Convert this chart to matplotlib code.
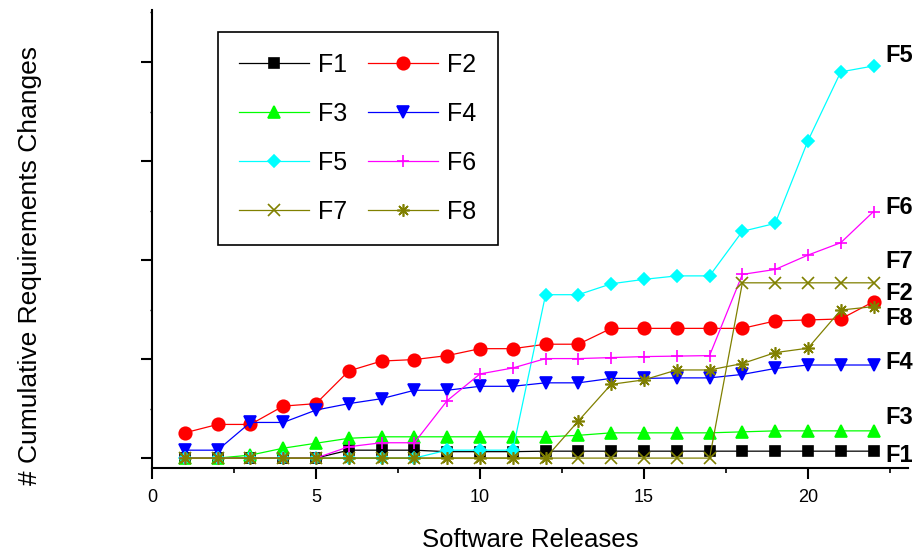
import matplotlib
matplotlib.use('Agg')
from matplotlib import pyplot as plt
from matplotlib.ticker import MultipleLocator

plt.rcParams['font.family'] = ['Liberation Sans', 'DejaVu Sans']

releases = list(range(1, 23))

f1 = [0, 0, 0, 0, 0, 0.8, 0.8, 0.8, 0.65, 0.65, 0.65,
      0.7, 0.7, 0.7, 0.7, 0.7, 0.7, 0.7, 0.7, 0.7, 0.7, 0.7]
f2 = [2.55, 3.4, 3.4, 5.25, 5.5, 8.8, 9.8, 9.95, 10.35, 11.05, 11.05,
      11.5, 11.5, 13.1, 13.1, 13.1, 13.1, 13.1, 13.85, 13.95, 14.05, 15.8]
f3 = [0, 0, 0.3, 1.0, 1.5, 2.0, 2.15, 2.15, 2.15, 2.15, 2.15,
      2.15, 2.3, 2.55, 2.55, 2.55, 2.55, 2.65, 2.75, 2.75, 2.75, 2.75]
f4 = [0.8, 0.8, 3.6, 3.6, 4.85, 5.5, 6.0, 6.85, 6.85, 7.25, 7.25,
      7.6, 7.6, 8.05, 8.05, 8.1, 8.1, 8.45, 9.05, 9.4, 9.4, 9.4]
f5 = [0, 0, 0, 0, 0, 0, 0, 0, 0.8, 0.8, 0.8,
      16.5, 16.5, 17.6, 18.05, 18.4, 18.4, 22.9, 23.7, 32.05, 39.0, 39.6]
f6 = [0, 0, 0, 0, 0, 1.15, 1.55, 1.55, 5.8, 8.5, 9.1,
      10.05, 10.05, 10.15, 10.25, 10.3, 10.35, 18.55, 19.05, 20.5, 21.75, 24.9]
f7 = [0, 0, 0, 0, 0, 0, 0, 0, 0, 0, 0,
      0, 0, 0, 0, 0, 0, 17.7, 17.7, 17.7, 17.7, 17.7]
f8 = [0, 0, 0, 0, 0, 0, 0, 0, 0, 0, 0,
      0, 3.75, 7.45, 7.9, 8.9, 8.9, 9.55, 10.65, 11.1, 14.95, 15.3]

names = ['F1', 'F2', 'F3', 'F4', 'F5', 'F6', 'F7', 'F8']
series = [f1, f2, f3, f4, f5, f6, f7, f8]

colors = ['black', 'red', '#00ff00', 'blue', 'cyan', 'magenta', '#808000', '#808000']
markers = ['s', 'o', '^', 'v', 'D', '+', 'x', (8, 2, 0)]
msizes = [6.5, 9, 8.5, 8.5, 6.5, 8, 8, 9]

# end-of-line labels (x, y in data units)
end_x = 22.35
end_y = {'F5': 40.7, 'F6': 25.35, 'F7': 19.9, 'F2': 16.6,
         'F8': 14.1, 'F4': 9.7, 'F3': 4.15, 'F1': 0.3}

fig = plt.figure(figsize=(9.19, 5.52), dpi=100)
ax = fig.add_axes([152 / 919, 84 / 552, 756 / 919, 458 / 552])

lines = []
for name, ys, c, m, ms in zip(names, series, colors, markers, msizes):
    ln, = ax.plot(releases, ys, color=c, marker=m, markersize=ms, linewidth=0.9,
                  markeredgecolor=c, markerfacecolor=c, markeredgewidth=1.2,
                  label=name, clip_on=False)
    lines.append(ln)

for name, yv in end_y.items():
    ax.text(end_x, yv, name, fontsize=17, fontweight='bold', va='center', ha='left')

ax.set_xlim(0, 23.05)
ax.set_ylim(-1.0, 45.25)

ax.spines['top'].set_visible(False)
ax.spines['right'].set_visible(False)
ax.spines['left'].set_linewidth(1.5)
ax.spines['bottom'].set_linewidth(1.5)

ax.xaxis.set_major_locator(MultipleLocator(5))
ax.xaxis.set_minor_locator(MultipleLocator(2.5))
ax.yaxis.set_major_locator(MultipleLocator(10))
ax.yaxis.set_minor_locator(MultipleLocator(5))
ax.tick_params(axis='x', which='major', direction='out', length=8, width=1.5,
               labelsize=13, pad=7)
ax.tick_params(axis='x', which='minor', direction='out', length=3.5, width=1.2)
ax.tick_params(axis='y', which='major', direction='out', length=8, width=1.5,
               labelleft=False)
ax.tick_params(axis='y', which='minor', direction='out', length=1.5, width=1)

ax.set_xlabel('Software Releases', fontsize=18.5)
ax.xaxis.set_label_coords(0.5, -0.13)
ax.set_ylabel('# Cumulative Requirements Changes', fontsize=19)
ax.yaxis.set_label_coords(-0.145, 0.443)

# legend filled row by row: F1 F2 / F3 F4 / F5 F6 / F7 F8
order = [0, 2, 4, 6, 1, 3, 5, 7]
leg = ax.legend([lines[i] for i in order], [names[i] for i in order],
                ncol=2, loc='upper left', bbox_to_anchor=(0.0873, 0.952),
                fontsize=18, handlelength=2.8, handletextpad=0.35,
                columnspacing=0.85, labelspacing=1.0, borderpad=0.85,
                borderaxespad=0, fancybox=False, framealpha=1)
leg.get_frame().set_edgecolor('black')
leg.get_frame().set_linewidth(1.2)

fig.savefig('out.png', dpi=100)
